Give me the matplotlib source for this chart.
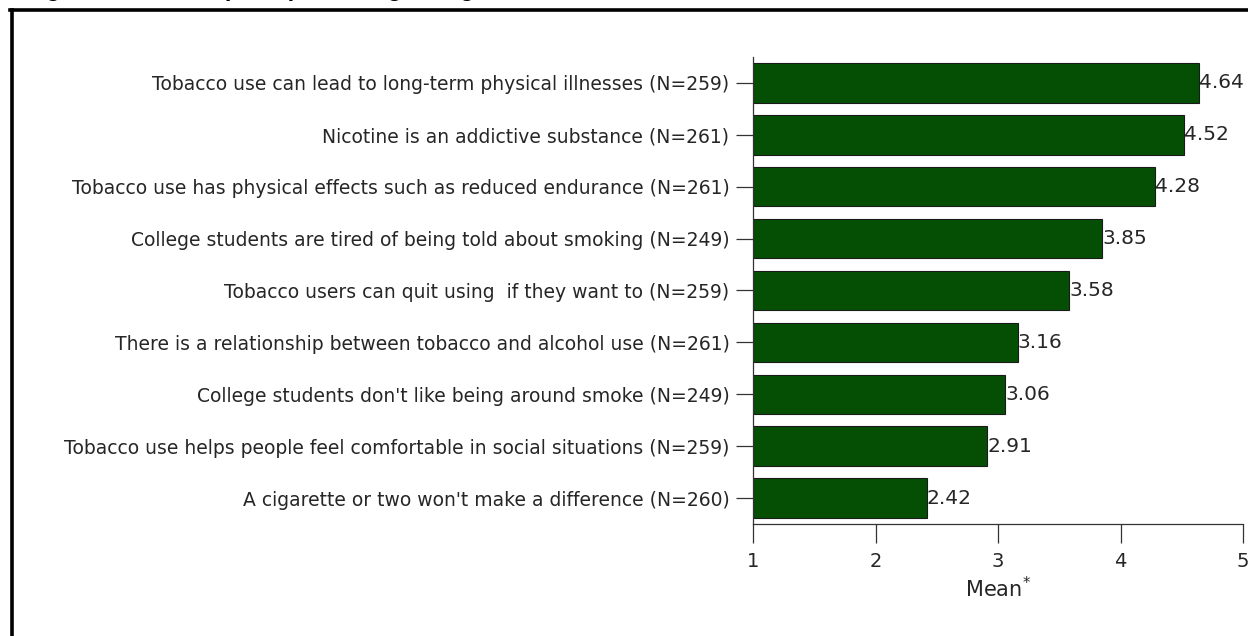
import matplotlib
matplotlib.use("Agg")
import matplotlib.pyplot as plt
from matplotlib.lines import Line2D

plt.rcParams['font.family'] = ['DejaVu Sans']

statements = [
    "Tobacco use can lead to long-term physical illnesses (N=259)",
    "Nicotine is an addictive substance (N=261)",
    "Tobacco use has physical effects such as reduced endurance (N=261)",
    "College students are tired of being told about smoking (N=249)",
    "Tobacco users can quit using  if they want to (N=259)",
    "There is a relationship between tobacco and alcohol use (N=261)",
    "College students don't like being around smoke (N=249)",
    "Tobacco use helps people feel comfortable in social situations (N=259)",
    "A cigarette or two won't make a difference (N=260)",
]
means = [4.64, 4.52, 4.28, 3.85, 3.58, 3.16, 3.06, 2.91, 2.42]
x_ticks = [1, 2, 3, 4, 5]
x_label = r"Mean$^{*}$"
title = "Figure 5. Student perceptions regarding tobacco"

bar_color = "#044f04"
text_color = "#262626"

fig = plt.figure(figsize=(12.48, 6.36), dpi=100)
ax = fig.add_axes([0.6034, 0.1761, 0.3926, 0.7343])

ypos = list(range(len(statements)))
base = x_ticks[0]
ax.barh(ypos, [m - base for m in means], left=base, height=0.76,
        color=bar_color, edgecolor="#1a1a1a", linewidth=0.8, zorder=2)

for y, m in zip(ypos, means):
    ax.text(m, y, f"{m:.2f}", va="center", ha="left", fontsize=14.5,
            color=text_color)

ax.set_xlim(x_ticks[0], x_ticks[-1])
ax.set_ylim(len(statements) - 0.5, -0.5)
ax.set_xticks(x_ticks)
ax.set_xticklabels([str(t) for t in x_ticks])
ax.set_yticks(ypos)
ax.set_yticklabels(statements)
ax.set_xlabel(x_label, fontsize=15, color=text_color, labelpad=4)

for side in ("top", "right"):
    ax.spines[side].set_visible(False)
for side in ("left", "bottom"):
    ax.spines[side].set_color("#333333")
    ax.spines[side].set_linewidth(0.9)

ax.tick_params(axis="y", length=12, width=0.9, color="#333333",
               labelsize=13.5, labelcolor=text_color, pad=5)
ax.tick_params(axis="x", length=14, width=0.9, color="#333333",
               labelsize=14, labelcolor=text_color, pad=6)

# page frame around the figure panel
fig.add_artist(Line2D([0.0093, 0.0093], [0.0, 0.9850], transform=fig.transFigure,
                      color="black", linewidth=2.6))
fig.add_artist(Line2D([0.0080, 1.0], [0.9850, 0.9850], transform=fig.transFigure,
                      color="black", linewidth=2.6))
fig.text(0.020, 1.0070, title, fontsize=17, fontweight="bold",
         family="Liberation Sans", ha="left", va="baseline", color="black")

fig.savefig("out.png", dpi=100)
